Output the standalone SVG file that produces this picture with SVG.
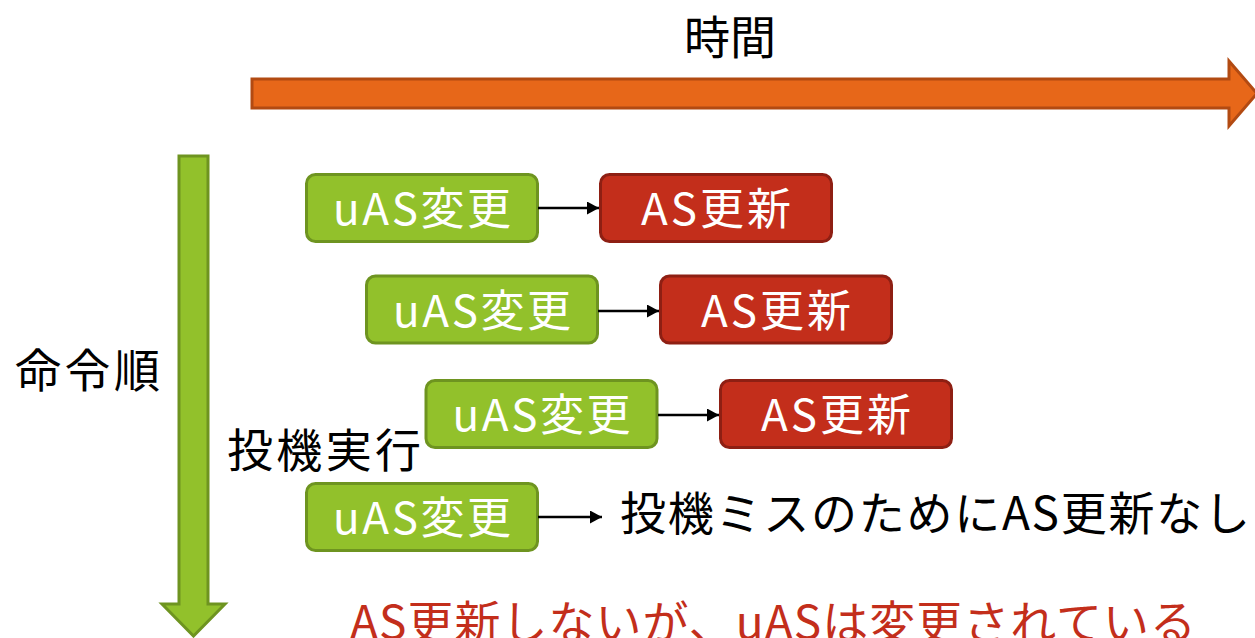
<svg xmlns="http://www.w3.org/2000/svg" width="1255" height="638" viewBox="0 0 1255 638">
<style>
  text { font-family: "Noto Sans CJK JP", "Noto Sans", sans-serif; }
  .lbl { font-size: 46px; fill: #000000; }
  .box-g { fill: #92C12B; stroke: #6E9420; stroke-width: 3; }
  .box-r { fill: #C32E1B; stroke: #8E1F13; stroke-width: 3; }
  .btxt { font-size: 44px; fill: #FFFFFF; text-anchor: middle; }
  .conn { stroke: #000000; stroke-width: 2.5; fill: none; marker-end: url(#ah); }
  .note { font-size: 46px; fill: #C32E1B; }
</style>
<defs>
  <marker id="ah" markerWidth="12" markerHeight="13" refX="12" refY="6.5" orient="auto" markerUnits="userSpaceOnUse">
    <path d="M0,0 L12,6.5 L0,13 Z" fill="#000000"/>
  </marker>
</defs>
<rect width="1255" height="638" fill="#FFFFFF"/>

<g id="time-axis">
  <polygon points="252,79 1229,79 1229,61 1257,93.5 1229,126 1229,108 252,108" fill="#E76719" stroke="#B24A12" stroke-width="3"/>
  <text class="lbl" x="730" y="54" text-anchor="middle">時間</text>
</g>

<g id="order-axis">
  <polygon points="179,156 208,156 208,604 225,604 193.5,636 162,604 179,604" fill="#92C12B" stroke="#6E9420" stroke-width="3"/>
  <text class="lbl" x="87.5" y="387" text-anchor="middle" textLength="145">命令順</text>
</g>

<g id="spec-label">
  <text class="lbl" x="227" y="467" textLength="194">投機実行</text>
</g>

<g id="row1-uas">
  <rect class="box-g" x="306.5" y="174.5" width="231" height="67" rx="9"/>
  <text class="btxt" x="422" y="225" textLength="178">uAS変更</text>
</g>
<g id="row1-as">
  <rect class="box-r" x="600.5" y="174.5" width="231" height="67" rx="9"/>
  <text class="btxt" x="716" y="225" textLength="150">AS更新</text>
</g>

<g id="row2-uas">
  <rect class="box-g" x="366.5" y="276" width="231" height="67" rx="9"/>
  <text class="btxt" x="482" y="327" textLength="178">uAS変更</text>
</g>
<g id="row2-as">
  <rect class="box-r" x="660.5" y="276" width="231" height="67" rx="9"/>
  <text class="btxt" x="776" y="327" textLength="150">AS更新</text>
</g>

<g id="row3-uas">
  <rect class="box-g" x="426" y="380.5" width="231" height="67" rx="9"/>
  <text class="btxt" x="541.5" y="431" textLength="178">uAS変更</text>
</g>
<g id="row3-as">
  <rect class="box-r" x="720.5" y="380.5" width="231" height="67" rx="9"/>
  <text class="btxt" x="836" y="431" textLength="150">AS更新</text>
</g>

<g id="row4-uas">
  <rect class="box-g" x="306.5" y="483.5" width="231" height="67" rx="9"/>
  <text class="btxt" x="422" y="534" textLength="178">uAS変更</text>
</g>
<g id="row4-note">
  <text class="lbl" x="620" y="530" textLength="630">投機ミスのためにAS更新なし</text>
</g>

<g id="connectors">
  <line class="conn" x1="538" y1="208" x2="599" y2="208"/>
  <line class="conn" x1="598" y1="311" x2="659" y2="311"/>
  <line class="conn" x1="658" y1="415" x2="719" y2="415"/>
  <line class="conn" x1="538" y1="517" x2="602" y2="517"/>
</g>

<g id="bottom-note">
  <text class="note" x="350" y="639" textLength="846">AS更新しないが、uASは変更されている</text>
</g>
</svg>
